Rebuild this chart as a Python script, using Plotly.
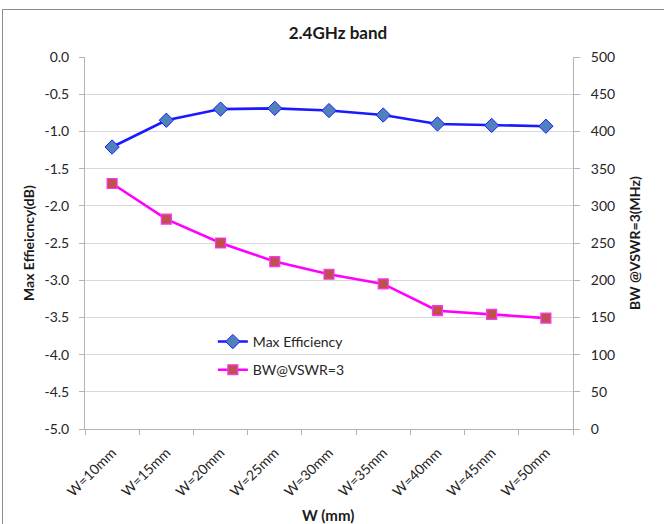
import plotly.graph_objects as go

# Patch width sweep for the 2.4 GHz band
categories = ["W=10mm", "W=15mm", "W=20mm", "W=25mm", "W=30mm",
              "W=35mm", "W=40mm", "W=45mm", "W=50mm"]
max_efficiency_db = [-1.21, -0.85, -0.70, -0.69, -0.72, -0.78, -0.90, -0.92, -0.93]
bw_vswr3_mhz = [330, 282, 250, 225, 208, 195, 159, 154, 149]

left_tickvals = [0.0, -0.5, -1.0, -1.5, -2.0, -2.5, -3.0, -3.5, -4.0, -4.5, -5.0]
left_ticktext = ["0.0", "-0.5", "-1.0", "-1.5", "-2.0", "-2.5", "-3.0",
                 "-3.5", "-4.0", "-4.5", "-5.0"]
right_tickvals = [0, 50, 100, 150, 200, 250, 300, 350, 400, 450, 500]

FONT = "Lato, 'Open Sans', sans-serif"
AXIS_GREY = "#b3b3b3"
GRID_GREY = "#d9d9d9"

fig = go.Figure()

fig.add_trace(go.Scatter(
    x=categories, y=max_efficiency_db, name="Max Efficiency",
    mode="lines+markers", legendgroup="eff",
    line=dict(color="#1a1aff", width=2.6),
    marker=dict(symbol="diamond", size=11, color="#4f81bd",
                line=dict(color="#1a1aff", width=1)),
))
fig.add_trace(go.Scatter(
    x=categories, y=bw_vswr3_mhz, name="BW@VSWR=3", yaxis="y2",
    mode="lines+markers", legendgroup="bw",
    line=dict(color="#ff00ff", width=2.6),
    marker=dict(symbol="square", size=10, color="#c0504d",
                line=dict(color="#ff33ff", width=1.2)),
))

fig.update_layout(
    width=664, height=524,
    margin=dict(l=85, r=91, t=57, b=95),
    paper_bgcolor="white", plot_bgcolor="white",
    font=dict(family=FONT, size=14, color="#262626"),
    title=dict(text="<b>2.4GHz band</b>", font=dict(size=17, color="#1a1a1a"),
               x=0.509, xref="container", xanchor="center",
               y=1 - 33 / 524, yref="container", yanchor="middle"),
    showlegend=True,
    legend=dict(x=0.262, xanchor="left", y=0.277, yanchor="top",
                bgcolor="rgba(0,0,0,0)", tracegroupgap=7,
                font=dict(size=14, color="#262626")),
    xaxis=dict(type="category", range=[-0.5, 8.5], tickson="boundaries",
               ticks="outside", ticklen=5, tickcolor=AXIS_GREY,
               showline=True, linecolor=AXIS_GREY, showgrid=False,
               tickangle=-45, tickfont=dict(size=14),
               ticklabelstandoff=9, automargin=False, fixedrange=True),
    yaxis=dict(range=[-5, 0], tickvals=left_tickvals, ticktext=left_ticktext,
               ticks="outside", ticklen=5, tickcolor=AXIS_GREY,
               showline=True, linecolor=AXIS_GREY,
               showgrid=True, gridcolor=GRID_GREY, gridwidth=1,
               zeroline=False, ticklabelstandoff=7, automargin=False),
    yaxis2=dict(range=[0, 500], tickvals=right_tickvals, overlaying="y",
                side="right", ticks="outside", ticklen=6, tickcolor=AXIS_GREY,
                showline=True, linecolor=AXIS_GREY, showgrid=False,
                zeroline=False, ticklabelstandoff=8, automargin=False),
    shapes=[
        # white patch behind the legend, interrupting the gridline
        dict(type="rect", layer="between", xref="paper", yref="y",
             x0=0.2008, x1=0.621, y0=-4.3, y1=-3.72,
             fillcolor="white", line=dict(width=0)),
        # chart frame
        dict(type="rect", xref="paper", yref="paper",
             x0=(2.5 - 85) / 488, x1=(680 - 85) / 488,
             y0=(429 - 540) / 372, y1=(429 - 9.5) / 372,
             line=dict(color="#8c8c8c", width=1), fillcolor="rgba(0,0,0,0)"),
    ],
    annotations=[
        dict(text="<b>Max Effieicncy(dB)</b>", textangle=-90,
             xref="paper", yref="paper", x=(28 - 85) / 488, y=0.5,
             xanchor="center", yanchor="middle", showarrow=False,
             font=dict(size=14, color="#1a1a1a")),
        dict(text="<b>BW @VSWR=3(MHz)</b>", textangle=-90,
             xref="paper", yref="paper", x=(634 - 85) / 488, y=0.5,
             xanchor="center", yanchor="middle", showarrow=False,
             font=dict(size=14, color="#1a1a1a")),
        dict(text="<b>W (mm)</b>",
             xref="paper", yref="paper", x=(328 - 85) / 488,
             y=(429 - 515) / 372,
             xanchor="center", yanchor="middle", showarrow=False,
             font=dict(size=15, color="#1a1a1a")),
    ],
)

fig.write_html("out.html")
